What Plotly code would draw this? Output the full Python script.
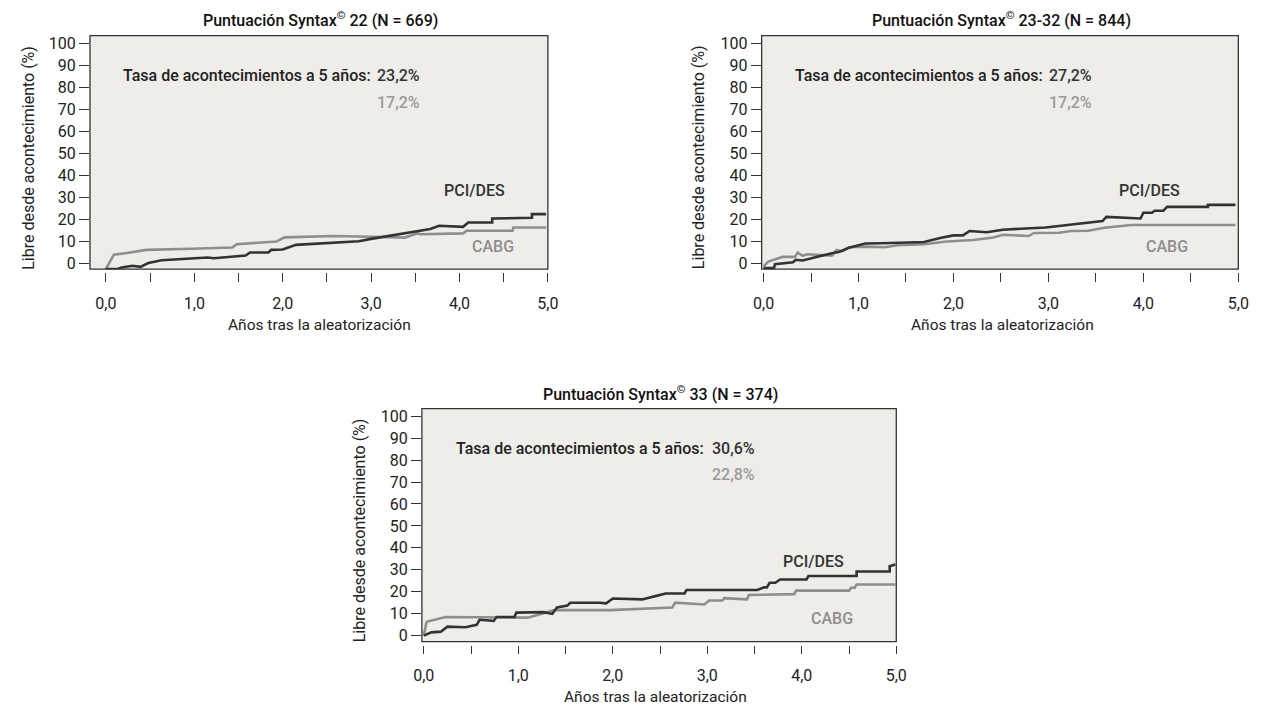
import plotly.graph_objects as go

W, H = 1269, 709
FONT = "Roboto, Liberation Sans, Arial, sans-serif"
DARK = "#333333"
GREY = "#8e8e8e"
BG = "#eeede9"

# ---------------- data ----------------
titles = ["Puntuación Syntax<sup>©</sup> 22 (N = 669)",
          "Puntuación Syntax<sup>©</sup> 23-32 (N = 844)",
          "Puntuación Syntax<sup>©</sup> 33 (N = 374)"]
rate_label = "Tasa de acontecimientos a 5 años:"
pci_rates = ["23,2%", "27,2%", "30,6%"]
cabg_rates = ["17,2%", "17,2%", "22,8%"]
x_title = "Años tras la aleatorización"
y_title = "Libre desde acontecimiento (%)"
x_tickvals = [0, 0.5, 1, 1.5, 2, 2.5, 3, 3.5, 4, 4.5, 5]
x_ticktext = ["0,0", "", "1,0", "", "2,0", "", "3,0", "", "4,0", "", "5,0"]
y_tickvals = [0, 10, 20, 30, 40, 50, 60, 70, 80, 90, 100]

# Panel 1 (Syntax <= 22)
p1_pci_t = [0, 0.13, 0.18, 0.30, 0.39, 0.48, 0.63, 0.82, 0.96, 1.15, 1.22, 1.33, 1.48,
            1.58, 1.63, 1.84, 1.87, 2.00, 2.15, 2.45, 2.63, 2.86, 3.00, 3.19, 3.38, 3.56,
            3.67, 3.77, 3.93, 4.04, 4.10, 4.37, 4.37, 4.82, 4.82, 4.98]
p1_pci = [-2.7, -2.7, -2.0, -1.2, -1.7, 0.0, 1.3, 1.8, 2.1, 2.5, 2.2, 2.5, 3.0,
          3.4, 4.8, 4.8, 6.0, 6.2, 8.3, 9.0, 9.5, 9.9, 11.0, 12.3, 13.5, 14.6,
          15.5, 17.0, 16.8, 16.5, 18.5, 18.5, 20.3, 20.6, 22.3, 22.3]
p1_cabg_t = [0, 0.09, 0.22, 0.46, 0.96, 1.43, 1.48, 1.93, 2.02, 2.45, 2.58, 3.00, 3.38,
             3.52, 3.56, 4.04, 4.08, 4.60, 4.61, 4.98]
p1_cabg = [-2.6, 3.8, 4.5, 6.0, 6.5, 7.1, 8.6, 9.8, 11.7, 11.9, 12.3, 12.0, 11.6,
           13.5, 13.1, 13.5, 14.7, 14.7, 16.2, 16.2]

# Panel 2 (Syntax 23-32)
p2_pci_t = [0, 0.11, 0.12, 0.31, 0.34, 0.41, 0.72, 0.79, 0.90, 1.07, 1.24, 1.69, 1.86,
            2.00, 2.10, 2.17, 2.35, 2.52, 2.97, 3.17, 3.31, 3.57, 3.61, 3.97, 4.00, 4.09,
            4.12, 4.21, 4.25, 4.68, 4.68, 4.97]
p2_pci = [-2.3, -2.3, -0.5, 0.4, 1.5, 1.2, 4.5, 5.0, 7.0, 8.9, 9.0, 9.6, 11.4,
          12.6, 12.6, 14.6, 14.0, 15.2, 16.2, 17.1, 17.7, 19.1, 21.0, 20.3, 22.9, 22.9,
          23.8, 23.8, 25.6, 25.6, 26.5, 26.5]
p2_cabg_t = [0, 0.05, 0.20, 0.33, 0.36, 0.41, 0.46, 0.72, 0.77, 0.83, 0.90, 1.07, 1.28,
             1.41, 1.69, 1.93, 2.21, 2.42, 2.52, 2.79, 2.85, 3.11, 3.24, 3.42, 3.59, 3.87, 4.97]
p2_cabg = [-1.5, 0.7, 2.8, 2.8, 4.8, 3.3, 4.0, 3.4, 6.0, 5.3, 7.2, 7.5, 7.2,
           8.1, 8.6, 9.8, 10.5, 11.6, 12.9, 12.3, 13.7, 13.8, 14.6, 14.7, 16.1, 17.3, 17.3]

# Panel 3 (Syntax >= 33)
p3_pci_t = [0, 0.08, 0.18, 0.25, 0.44, 0.56, 0.59, 0.74, 0.77, 0.96, 0.98, 1.27, 1.36,
            1.41, 1.52, 1.55, 1.86, 1.93, 2.00, 2.31, 2.45, 2.56, 2.76, 2.78, 3.53, 3.60,
            3.63, 3.66, 3.72, 3.77, 4.05, 4.07, 4.58, 4.58, 4.93, 4.93, 4.99]
p3_pci = [0, 1.5, 1.8, 4.1, 3.8, 4.9, 7.2, 6.7, 8.5, 8.5, 10.5, 10.7, 9.9,
          12.8, 13.7, 15.0, 15.0, 14.7, 16.9, 16.5, 18.0, 19.2, 19.2, 20.8, 20.8, 22.0,
          22.0, 24.1, 24.1, 25.6, 25.6, 27.2, 27.2, 29.2, 29.2, 31.6, 32.4]
p3_cabg_t = [0, 0.03, 0.23, 1.03, 1.10, 1.38, 1.97, 2.63, 2.66, 2.97, 3.02, 3.16, 3.18,
             3.42, 3.44, 3.92, 3.94, 4.50, 4.52, 4.56, 4.58, 4.99]
p3_cabg = [0, 6.3, 8.5, 8.4, 8.2, 11.6, 11.6, 12.8, 15.0, 14.2, 16.0, 16.0, 17.1,
           16.5, 18.5, 18.9, 20.5, 20.5, 21.8, 21.8, 23.3, 23.3]

# ---------------- layout geometry (pixels) ----------------
panels = [
    dict(box=(82.3, 547.5, 34, 269.5), xr=[-0.18, 5.0], yr=[-2.8, 103.5],
         title=(316, 18), ytitle=(19.7, 156.7), xtitle=(315, 326),
         rate_x=0.175, val_x=3.04, pci_lab=(4.17, 33.1), cabg_lab=(4.38, 7.5),
         pci=(p1_pci_t, p1_pci), cabg=(p1_cabg_t, p1_cabg)),
    dict(box=(764.7, 1249, 34, 269.5), xr=[-0.02, 5.0], yr=[-2.8, 103.5],
         title=(1008, 18), ytitle=(700.8, 156.7), xtitle=(1009, 326),
         rate_x=0.305, val_x=2.99, pci_lab=(4.06, 33.1), cabg_lab=(4.25, 7.5),
         pci=(p2_pci_t, p2_pci), cabg=(p2_cabg_t, p2_cabg)),
    dict(box=(419.5, 901.5, 410, 645), xr=[-0.02, 5.0], yr=[-2.7, 103.5],
         title=(662, 395), ytitle=(356.9, 532.5), xtitle=(657, 701),
         rate_x=0.318, val_x=3.03, pci_lab=(4.12, 33.7), cabg_lab=(4.32, 7.8),
         pci=(p3_pci_t, p3_pci), cabg=(p3_cabg_t, p3_cabg)),
]

def px(x):
    return x / W

def py(y):
    return 1 - y / H

def f(size, color, weight=500):
    return dict(family=FONT, size=size, color=color, weight=weight)

fig = go.Figure()
annotations = []
shapes = []
layout_axes = {}

for i, p in enumerate(panels, start=1):
    xa = "x" if i == 1 else f"x{i}"
    ya = "y" if i == 1 else f"y{i}"
    xl, xr_, yt, yb = p["box"]
    fig.add_trace(go.Scatter(x=p["cabg"][0], y=p["cabg"][1], mode="lines",
                             line=dict(color=GREY, width=2.6), xaxis=xa, yaxis=ya,
                             showlegend=False, hoverinfo="skip"))
    fig.add_trace(go.Scatter(x=p["pci"][0], y=p["pci"][1], mode="lines",
                             line=dict(color=DARK, width=2.6), xaxis=xa, yaxis=ya,
                             showlegend=False, hoverinfo="skip"))
    xkey = "xaxis" if i == 1 else f"xaxis{i}"
    ykey = "yaxis" if i == 1 else f"yaxis{i}"
    layout_axes[xkey] = dict(
        domain=[px(xl), px(xr_)], range=p["xr"], anchor="free",
        position=py(yb + 3), showgrid=False, zeroline=False, showline=False,
        tickmode="array", tickvals=x_tickvals, ticktext=x_ticktext,
        ticks="outside", ticklen=8.5, tickwidth=1.3, tickcolor=DARK,
        ticklabelstandoff=8, tickfont=f(16, "#222222", 400), fixedrange=True)
    layout_axes[ykey] = dict(
        domain=[py(yb), py(yt)], range=p["yr"], anchor=xa,
        showgrid=False, zeroline=False, showline=False,
        tickmode="array", tickvals=y_tickvals,
        ticks="outside", ticklen=10, tickwidth=1.3, tickcolor=DARK,
        tickfont=f(16, "#222222", 400), fixedrange=True)
    shapes.append(dict(type="rect", xref=f"{xa} domain", yref=f"{ya} domain",
                       x0=0, x1=1, y0=0, y1=1, line=dict(color=DARK, width=1.3),
                       fillcolor="rgba(0,0,0,0)", layer="above"))
    annotations.append(dict(text=titles[i - 1], xref="paper", yref="paper",
                            x=px(p["title"][0]), y=py(p["title"][1]),
                            xanchor="center", yanchor="middle", showarrow=False,
                            font=f(16, "#111111")))
    annotations.append(dict(text=y_title, xref="paper", yref="paper",
                            x=px(p["ytitle"][0]), y=py(p["ytitle"][1]), textangle=-90,
                            xanchor="center", yanchor="middle", showarrow=False,
                            font=f(16, "#222222", 400)))
    annotations.append(dict(text=x_title, xref="paper", yref="paper",
                            x=px(p["xtitle"][0]), y=py(p["xtitle"][1]),
                            xanchor="center", yanchor="middle", showarrow=False,
                            font=f(15.5, "#222222", 400)))
    annotations.append(dict(text=rate_label, xref=xa, yref=ya, x=p["rate_x"], y=85.5,
                            xanchor="left", yanchor="middle", showarrow=False,
                            font=f(16, "#222222")))
    annotations.append(dict(text=pci_rates[i - 1], xref=xa, yref=ya, x=p["val_x"], y=85.5,
                            xanchor="left", yanchor="middle", showarrow=False,
                            font=f(16, DARK)))
    annotations.append(dict(text=cabg_rates[i - 1], xref=xa, yref=ya, x=p["val_x"], y=73.3,
                            xanchor="left", yanchor="middle", showarrow=False,
                            font=f(16, "#9a9a9a")))
    annotations.append(dict(text="PCI/DES", xref=xa, yref=ya, x=p["pci_lab"][0],
                            y=p["pci_lab"][1], xanchor="center", yanchor="middle",
                            showarrow=False, font=f(16, DARK)))
    annotations.append(dict(text="CABG", xref=xa, yref=ya, x=p["cabg_lab"][0],
                            y=p["cabg_lab"][1], xanchor="center", yanchor="middle",
                            showarrow=False, font=f(16, GREY)))

fig.update_layout(
    width=W, height=H, margin=dict(l=0, r=0, t=0, b=0),
    paper_bgcolor="white", plot_bgcolor=BG,
    annotations=annotations, shapes=shapes, showlegend=False,
    **layout_axes)

fig.write_html("out.html", config={"displayModeBar": False},
               post_script="document.body.style.margin='0';document.body.style.overflow='hidden';")
